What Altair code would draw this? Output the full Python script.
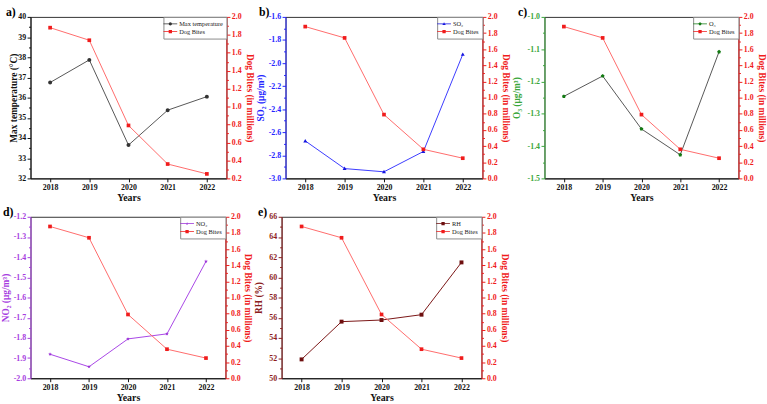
import altair as alt
import pandas as pd

# ---- data -------------------------------------------------------------
years = [2018, 2019, 2020, 2021, 2022]
dog_bites = [1.88, 1.74, 0.79, 0.36, 0.25]          # millions
max_temp = [36.75, 37.87, 33.65, 35.38, 36.05]      # degC
so2 = [-2.675, -2.915, -2.943, -2.767, -1.925]      # ug/m3
o3 = [-1.246, -1.183, -1.347, -1.427, -1.108]       # ug/m3
no2 = [-1.881, -1.943, -1.805, -1.780, -1.421]      # ug/m3
rh = [51.87, 55.61, 55.77, 56.30, 61.48]            # %

FONT = "Liberation Serif"
RED_LINE = "#ff6b6b"
RED = "#f01c1c"

# marker outlines in unit coordinates (-1..1)
CIRCLE = "M1,0A1,1 0 1,1 -1,0A1,1 0 1,1 1,0Z"
SQUARE = "M-1,-1H1V1H-1Z"
TRIANGLE = "M0,-1L1,0.75H-1Z"
PENTAGON = "M0,-1L0.951,-0.309L0.588,0.809L-0.588,0.809L-0.951,-0.309Z"
STAR = ("M0,-1L0.235,-0.324L0.951,-0.309L0.380,0.124L0.588,0.809L0,0.4"
        "L-0.588,0.809L-0.380,0.124L-0.951,-0.309L-0.235,-0.324Z")


def scaled(path, k):
    """Scale every number of a simple M/L/H/V/A/Z path by k."""
    out, num = [], ""
    tokens = []
    for ch in path:
        if ch.isalpha() or ch in ", ":
            if num:
                tokens.append(num)
                num = ""
            tokens.append(ch)
        elif ch == "-" and num:
            tokens.append(num)
            num = "-"
        else:
            num += ch
    if num:
        tokens.append(num)
    # arc flags (large-arc, sweep) and rotation must stay unscaled
    cmd, idx = None, 0
    for t in tokens:
        if t.isalpha():
            cmd, idx = t, 0
            out.append(t)
        elif t in ", ":
            out.append(t)
        else:
            if cmd == "A" and idx % 7 in (2, 3, 4):
                out.append(t)
            else:
                out.append(f"{float(t) * k:.3f}")
            idx += 1
    return "".join(out)


def legend_symbol(marker):
    """Short line segment with the series marker on top of it."""
    return "M-1.75,-0.1H1.75V0.1H-1.75Z" + scaled(marker, 0.42)


def ticks_for(lo, hi, minor):
    n = int(round((hi - lo) / minor))
    return [round(lo + i * minor, 6) for i in range(n + 1)]


def y_axis(orient, color, lo, hi, major, minor, fmt, title, extent, tpad):
    is_major = f"abs(datum.value/{major} - round(datum.value/{major})) < 1e-6"
    return alt.Axis(
        orient=orient,
        title=title,
        values=ticks_for(lo, hi, minor),
        format=fmt,
        labelExpr=f"{is_major} ? replace(datum.label, '\u2212', '-') : ''",
        tickSize={"condition": {"test": is_major, "value": 3.5}, "value": 2},
        domainColor=color,
        tickColor=color,
        labelColor=color,
        titleColor=color,
        labelPadding=1.5,
        titlePadding=tpad,
        minExtent=extent,
        maxExtent=extent,
        labelOverlap=False,
        labelFlush=False,
        grid=False,
    )


def panel(tag, tag_dx, name, values, domain, major, minor, fmt, title,
          color, line_color, marker_color, marker, left_ext, left_pad,
          right_ext, right_pad, width):
    df = pd.DataFrame({"year": years, "value": values, "dog": dog_bites})
    x = alt.X(
        "year:O",
        scale=alt.Scale(type="point", padding=0.5),
        axis=alt.Axis(title="Years", labelAngle=0, tickSize=3.5,
                      labelPadding=2, titlePadding=1, domainColor="#111",
                      tickColor="#111"),
    )
    main = alt.Chart(df).mark_line(
        color=line_color, strokeWidth=1,
        point=alt.OverlayMarkDef(shape=marker, size=16, filled=True,
                                 color=marker_color, opacity=1),
    ).encode(
        x=x,
        y=alt.Y("value:Q", scale=alt.Scale(domain=domain, nice=False, zero=False),
                axis=y_axis("left", color, domain[0], domain[1], major, minor,
                            fmt, title, left_ext, left_pad)),
    )
    dog_lo = 0.2 if tag == "a)" else 0.0
    dog = alt.Chart(df).mark_line(
        color=RED_LINE, strokeWidth=1,
        point=alt.OverlayMarkDef(shape=SQUARE, size=14, filled=True,
                                 color=RED, opacity=1),
    ).encode(
        x=x,
        y=alt.Y("dog:Q", scale=alt.Scale(domain=[dog_lo, 2.0], nice=False, zero=False),
                axis=y_axis("right", RED, dog_lo, 2.0, 0.2, 0.1, ".1f",
                            "Dog Bites (in millions)", right_ext, right_pad)),
    )
    # legend-only layer: scale domains are fixed, the marks are filtered away
    names = [name, "Dog Bites"]
    key = pd.DataFrame({"series": names})
    leg = alt.Chart(key).mark_point(filled=True, opacity=1).encode(
        color=alt.Color("series:N",
                        scale=alt.Scale(domain=names, range=[marker_color, RED]),
                        legend=alt.Legend(title=None, orient="top-right")),
        shape=alt.Shape("series:N",
                        scale=alt.Scale(domain=names,
                                        range=[legend_symbol(marker),
                                               legend_symbol(SQUARE)]),
                        legend=alt.Legend(title=None, orient="top-right")),
    ).transform_filter("false")
    return alt.layer(main, dog, leg).resolve_scale(y="independent").properties(
        width=width, height=164,
        title=alt.Title(tag, anchor="start", frame="group", dx=tag_dx,
                        offset=-6, fontSize=12, font=FONT, fontWeight="bold"),
    )


pa = panel("a)", -25, "Max temperature", max_temp, [32, 40], 1, 0.5, ".0f",
           "Max temperature (\u00b0C)", "#111111", "#555555", "#333333", CIRCLE,
           11, 1, 13, 5, 199)
pb = panel("b)", -27, "SO\u2082", so2, [-3.0, -1.6], 0.2, 0.1, ".1f",
           "SO\u2082 (\u03bcg/m\u00b3)", "#2424ff", "#3a3aff", "#1515e0", TRIANGLE,
           17, 3, 13, 5, 200)
pc = panel("c)", -27, "O\u2083", o3, [-1.5, -1.0], 0.1, 0.05, ".1f",
           "O\u2083 (\u03bcg/m\u00b3)", "#3aa63a", "#555555", "#137a13", PENTAGON,
           18, 5, 13, 5, 197)
pd_ = panel("d)", -28, "NO\u2082", no2, [-2.0, -1.2], 0.1, 0.05, ".1f",
            "NO\u2082 (\u03bcg/m\u00b3)", "#a63ce0", "#a845e6", "#9a2fd6", STAR,
            16, 4, 13, 4, 198)
pe = panel("e)", -24, "RH", rh, [50, 66], 2, 1, ".0f",
           "RH (%)", "#8c1c1c", "#7a1414", "#6e0f0f", SQUARE,
           12, 6, 13, 5, 203)

top = alt.hconcat(pa, pb, pc, spacing=0).resolve_scale(color="independent",
                                                       shape="independent")
bottom = alt.hconcat(pd_, pe, spacing=0).resolve_scale(color="independent",
                                                       shape="independent")

chart = alt.vconcat(top, bottom, spacing=2).resolve_scale(
    color="independent", shape="independent"
).properties(
    padding={"left": 0, "top": 2, "right": 0, "bottom": 0},
).configure_view(
    stroke="#333333", strokeWidth=1,
).configure_axis(
    labelFont=FONT, titleFont=FONT, labelFontSize=8, titleFontSize=9.5,
    labelFontWeight="bold", titleFontWeight="bold",
).configure_axisX(
    labelColor="#111", titleColor="#111", titleFontSize=10,
).configure_legend(
    orient="top-right", offset=0, padding=3, strokeColor="#8a8a8a",
    fillColor="white", labelFont=FONT, labelFontSize=6.5, labelFontWeight="normal",
    labelColor="#222", symbolSize=64, symbolStrokeWidth=0, rowPadding=0,
    labelOffset=5, cornerRadius=0, labelLimit=120,
)

chart.save("out.html", embed_options={"renderer": "svg", "actions": False})
